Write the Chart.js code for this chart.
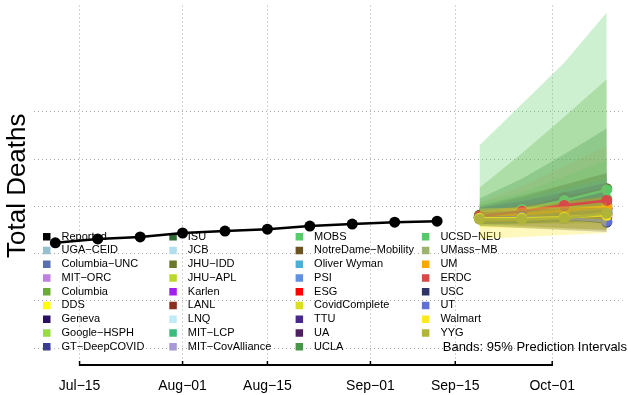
<!DOCTYPE html>
<html>
<head>
<meta charset="utf-8">
<script src="https://cdn.jsdelivr.net/npm/chart.js@4/dist/chart.umd.min.js"></script>
<style>
  html, body { margin: 0; padding: 0; background: #fff; }
  canvas { display: block; }
</style>
</head>
<body>
<canvas id="chart" width="628" height="395"></canvas>
<script>
// Days are counted from Jul-15; deaths are in thousands (no y labels shown)
const tickDays = [0, 17, 31, 48, 62, 78];
const tickLabels = ['Jul\u221215', 'Aug\u221201', 'Aug\u221215', 'Sep\u221201', 'Sep\u221215', 'Oct\u221201'];
const yGridValues = [0, 50, 100, 150, 200, 250];

const reportedDays = [-4, 3, 10, 17, 24, 31, 38, 45, 52, 59];
const reportedDeaths = [111.5, 115.6, 117.7, 121.9, 124.0, 126.0, 129.2, 131.3, 133.3, 134.4];

const forecastDays = [66, 73, 80, 87];

const models = ['UGA\u2212CEID', 'Columbia\u2212UNC', 'MIT\u2212ORC', 'Columbia', 'DDS', 'Geneva',
  'Google\u2212HSPH', 'GT\u2212DeepCOVID', 'ISU', 'JCB', 'JHU\u2212IDD', 'JHU\u2212APL', 'Karlen',
  'LANL', 'LNQ', 'MIT\u2212LCP', 'MIT\u2212CovAlliance', 'MOBS', 'NotreDame\u2212Mobility',
  'Oliver Wyman', 'PSI', 'ESG', 'CovidComplete', 'TTU', 'UA', 'UCLA', 'UCSD\u2212NEU',
  'UMass\u2212MB', 'UM', 'ERDC', 'USC', 'UT', 'Walmart', 'YYG'];

const modelColors = ['#96c0ce', '#5a6fae', '#c080e0', '#6aaa35', '#ffff00', '#2a1060',
  '#98dc40', '#3c3c98', '#2e6b35', '#b0e0ee', '#6b7a2a', '#bcd82a', '#a020f0',
  '#8b3020', '#c0ecf8', '#3cbc7c', '#a898d8', '#58cc68', '#6b5420',
  '#4ab0d8', '#6090e0', '#ff0000', '#dce01c', '#48288a', '#4e2060', '#449848', '#58c868',
  '#9cb46c', '#ffa500', '#d84848', '#2c3468', '#6070d8', '#ffe820', '#b0b438'];

const pointForecasts = [
  [138.5, 140.6, 142.7, 144.8], // UGA-CEID
  [137.5, 139.6, 141.7, 143.8], // Columbia-UNC
  [139.6, 142.7, 145.8, 147.9], // MIT-ORC
  [140.6, 144.8, 150.0, 155.2], // Columbia
  [137.5, 139.6, 141.7, 142.7], // DDS
  [138.5, 139.6, 140.6, 141.7], // Geneva
  [138.5, 141.7, 144.8, 147.9], // Google-HSPH
  [137.5, 138.5, 139.6, 140.6], // GT-DeepCOVID
  [138.5, 142.7, 146.9, 151.0], // ISU
  [138.5, 140.6, 143.8, 145.8], // JCB
  [139.6, 143.8, 147.9, 152.1], // JHU-IDD
  [138.5, 140.6, 142.7, 144.8], // JHU-APL
  [137.5, 139.6, 141.7, 143.8], // Karlen
  [138.5, 141.7, 144.8, 147.9], // LANL
  [138.5, 141.7, 144.8, 146.9], // LNQ
  [139.6, 142.7, 145.8, 149.0], // MIT-LCP
  [137.5, 139.6, 141.7, 142.7], // MIT-CovAlliance
  [139.6, 144.8, 151.0, 158.3], // MOBS
  [140.6, 147.9, 159.4, 168.8], // NotreDame-Mobility
  [138.5, 140.6, 143.8, 145.8], // Oliver Wyman
  [137.5, 139.6, 141.7, 143.8], // PSI
  [138.5, 141.7, 144.8, 147.9], // ESG
  [137.5, 138.5, 139.6, 140.6], // CovidComplete
  [138.5, 141.7, 143.8, 146.9], // TTU
  [137.5, 138.5, 139.6, 138.5], // UA
  [138.5, 141.7, 144.8, 147.9], // UCLA
  [139.6, 146.9, 156.3, 167.7], // UCSD-NEU
  [138.5, 141.7, 144.8, 147.9], // UMass-MB
  [138.5, 141.7, 145.8, 150.0], // UM
  [139.6, 144.8, 151.0, 156.3], // ERDC
  [137.5, 138.5, 137.5, 133.3], // USC
  [137.5, 138.5, 137.5, 134.4], // UT
  [137.5, 137.5, 138.5, 140.6], // Walmart
  [136.5, 136.5, 137.5, 142.7]  // YYG
];

// 95% prediction interval bounds (null = no band shown)
const lower95 = [
  [134.4, 135.4, 136.5, 137.5], // UGA-CEID
  null, null,
  [131.3, 131.3, 132.3, 133.3], // Columbia
  [128.1, 127.1, 126.0, 125.0], // DDS
  [135.4, 136.5, 137.5, 138.5], // Geneva
  null,
  [131.3, 129.2, 127.1, 125.0], // GT-DeepCOVID
  [132.3, 133.3, 135.4, 137.5], // ISU
  null,
  [131.3, 132.3, 133.3, 134.4], // JHU-IDD
  null, null,
  [133.3, 134.4, 135.4, 136.5], // LANL
  null, null, null,
  [129.2, 131.3, 135.4, 139.6], // MOBS
  [132.3, 137.5, 145.8, 154.2], // NotreDame-Mobility
  [133.3, 134.4, 135.4, 136.5], // Oliver Wyman
  null,
  [134.4, 135.4, 136.5, 137.5], // ESG
  [129.2, 128.1, 127.1, 126.0], // CovidComplete
  [131.3, 132.3, 133.3, 134.4], // TTU
  null,
  [131.3, 132.3, 134.4, 136.5], // UCLA
  [133.3, 135.4, 139.6, 143.8], // UCSD-NEU
  [132.3, 133.3, 135.4, 137.5], // UMass-MB
  [133.3, 134.4, 135.4, 136.5], // UM
  null,
  [129.2, 127.1, 125.0, 122.9], // USC
  null,
  [115.6, 117.7, 119.8, 121.9], // Walmart
  [131.3, 131.3, 131.3, 132.3]  // YYG
];
const upper95 = [
  [150.0, 160.4, 171.9, 183.3], // UGA-CEID
  null, null,
  [169.8, 206.3, 244.8, 284.4], // Columbia
  [145.8, 147.9, 150.0, 152.1], // DDS
  [147.9, 156.3, 165.6, 175.0], // Geneva
  null,
  [143.8, 146.9, 150.0, 153.1], // GT-DeepCOVID
  [151.0, 161.5, 172.9, 185.4], // ISU
  null,
  [146.9, 153.1, 159.4, 165.6], // JHU-IDD
  null, null,
  [145.8, 151.0, 156.3, 161.5], // LANL
  null, null, null,
  [214.6, 258.3, 302.1, 355.2], // MOBS
  [149.0, 159.4, 172.9, 185.4], // NotreDame-Mobility
  [149.0, 158.3, 168.8, 179.2], // Oliver Wyman
  null,
  [143.8, 149.0, 154.2, 158.3], // ESG
  [143.8, 145.8, 147.9, 150.0], // CovidComplete
  [149.0, 155.2, 164.6, 175.0], // TTU
  null,
  [158.3, 179.2, 205.2, 232.3], // UCLA
  [154.2, 164.6, 181.3, 199.0], // UCSD-NEU
  [154.2, 170.8, 192.7, 213.5], // UMass-MB
  [144.8, 150.0, 155.2, 160.4], // UM
  null,
  [143.8, 145.8, 147.9, 149.0], // USC
  null,
  [147.9, 149.0, 150.0, 151.0], // Walmart
  [144.8, 146.9, 150.0, 154.2]  // YYG
];

function withAlpha(hex, a) {
  const n = parseInt(hex.slice(1), 16);
  return 'rgba(' + (n >> 16) + ',' + ((n >> 8) & 255) + ',' + (n & 255) + ',' + a + ')';
}

const datasets = [{
  label: 'Reported',
  data: reportedDays.map((d, i) => ({x: d, y: reportedDeaths[i]})),
  borderColor: '#000',
  backgroundColor: '#000',
  borderWidth: 2.5,
  pointRadius: 5.5,
  pointBorderWidth: 0,
  fill: false,
  order: 5000
}];

models.forEach((name, i) => {
  const base = 1000 - 3 * i;
  if (lower95[i]) {
    const lowIdx = datasets.length;
    datasets.push({
      label: name + ' lower',
      data: forecastDays.map((d, j) => ({x: d, y: lower95[i][j]})),
      borderColor: 'transparent',
      borderWidth: 0,
      pointRadius: 0,
      fill: false,
      order: base
    });
    datasets.push({
      label: name + ' band',
      data: forecastDays.map((d, j) => ({x: d, y: upper95[i][j]})),
      borderColor: 'transparent',
      borderWidth: 0,
      pointRadius: 0,
      backgroundColor: withAlpha(modelColors[i], 0.3),
      fill: lowIdx,
      order: base
    });
  }
  datasets.push({
    label: name,
    data: forecastDays.map((d, j) => ({x: d, y: pointForecasts[i][j]})),
    borderColor: modelColors[i],
    backgroundColor: modelColors[i],
    borderWidth: 2.5,
    pointRadius: 5.5,
    pointBorderWidth: 0,
    fill: false,
    order: base - 1
  });
});

// R-style legend inside the plot: 4 columns filled top-to-bottom
const legendPlugin = {
  id: 'rLegend',
  beforeDatasetsDraw(chart) {
    const ctx = chart.ctx;
    const names = ['Reported'].concat(models);
    const colors = ['#000000'].concat(modelColors);
    ctx.save();
    ctx.font = '11px "Liberation Sans", Arial, sans-serif';
    ctx.textBaseline = 'middle';
    names.forEach((name, k) => {
      const col = Math.floor(k / 9), row = k % 9;
      const x = 43 + col * 126.3;
      const y = 236.5 + row * 13.75;
      ctx.fillStyle = colors[k];
      ctx.fillRect(x, y - 3.5, 7.5, 7.5);
      ctx.fillStyle = '#000';
      ctx.fillText(name, x + 18.5, y);
    });
    ctx.font = '13px "Liberation Sans", Arial, sans-serif';
    ctx.textAlign = 'right';
    ctx.fillText('Bands: 95% Prediction Intervals', 627, 347.5);
    ctx.restore();
  }
};

// bottom axis line spanning first to last tick, like R's axis()
const axisPlugin = {
  id: 'rAxis',
  afterDraw(chart) {
    const ctx = chart.ctx;
    const xs = chart.scales.x;
    const yb = chart.chartArea.bottom;
    const x0 = xs.getPixelForValue(tickDays[0]);
    const x1 = xs.getPixelForValue(tickDays[tickDays.length - 1]);
    ctx.save();
    ctx.strokeStyle = '#000';
    ctx.lineWidth = 2;
    ctx.beginPath();
    ctx.moveTo(x0, yb - 1);
    ctx.lineTo(x1, yb - 1);
    ctx.stroke();
    ctx.lineWidth = 1.5;
    tickDays.forEach(d => {
      const px = xs.getPixelForValue(d);
      ctx.beginPath();
      ctx.moveTo(px, yb - 5);
      ctx.lineTo(px, yb);
      ctx.stroke();
    });
    ctx.restore();
  }
};

Chart.defaults.font.family = '"Liberation Sans", Arial, Helvetica, sans-serif';

new Chart(document.getElementById('chart').getContext('2d'), {
  type: 'line',
  data: {datasets: datasets},
  options: {
    responsive: false,
    animation: false,
    devicePixelRatio: 1,
    layout: {padding: 0},
    elements: {line: {tension: 0}},
    plugins: {
      legend: {display: false},
      tooltip: {enabled: false}
    },
    scales: {
      x: {
        type: 'linear',
        min: -7.52,
        max: 89.6,
        afterBuildTicks: scale => { scale.ticks = tickDays.map(v => ({value: v})); },
        afterFit: scale => { scale.height = 29; },
        ticks: {
          color: '#000',
          font: {size: 14},
          padding: 12,
          maxRotation: 0,
          callback: (v, i) => tickLabels[i]
        },
        grid: {color: '#a8a8a8', lineWidth: 1, drawTicks: false},
        border: {display: false, dash: [1, 3]}
      },
      y: {
        min: -18.75,
        max: 362.5,
        afterBuildTicks: scale => { scale.ticks = yGridValues.map(v => ({value: v})); },
        afterFit: scale => { scale.width = 34; },
        ticks: {display: false},
        grid: {color: '#a8a8a8', lineWidth: 1, drawTicks: false},
        border: {display: false, dash: [1, 3]},
        title: {
          display: true,
          text: 'Total Deaths',
          color: '#000',
          font: {size: 26},
          padding: {top: 2, bottom: 0}
        }
      }
    }
  },
  plugins: [legendPlugin, axisPlugin]
});
</script>
</body>
</html>
